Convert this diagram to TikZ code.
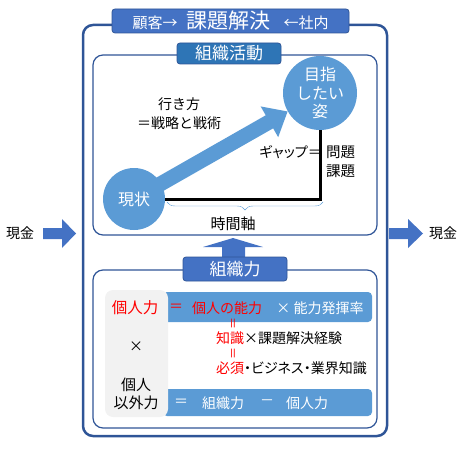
\documentclass[tikz,border=0pt]{standalone}
\usepackage{fontspec}
\setmainfont{Noto Sans CJK JP}
\newfontfamily\propjp[RawFeature=+palt]{Noto Sans CJK JP}
\usepackage{tikz}
\usetikzlibrary{arrows.meta,decorations.pathreplacing,backgrounds}
\usepackage{xcolor}
\definecolor{framblue}{HTML}{2F5597}
\definecolor{tabblue}  {HTML}{4472C4}
\definecolor{acttab}   {HTML}{2E75B6}
\definecolor{spotblue} {HTML}{5B9BD5}
\definecolor{panelgray}{HTML}{F2F2F2}
\newcommand{\fsz}[2]{\fontsize{#1}{#2}\selectfont}

\begin{document}
\begin{tikzpicture}[x=1pt,y=-1pt,
  every node/.style={inner sep=0pt},
  frame/.style={draw=framblue,rounded corners=10pt},
  tab/.style={draw=framblue,line width=0.8pt,rounded corners=3pt,text=white},
  spot/.style={circle,fill=spotblue,text=white,align=center},
  bar/.style={fill=spotblue,rounded corners=4pt},
  blockarrow/.style={fill=tabblue},
  txt/.style={font=\fsz{14}{18}},
  wtxt/.style={txt,text=white},
  rtxt/.style={txt,text=red},
]
\useasboundingbox (0,0) rectangle (465,449);

%% outer frame with title
\node[frame,line width=2.5pt,minimum width=304pt,minimum height=411pt] (main) at (235,230.5) {};
\node[tab,fill=tabblue,minimum width=237pt,minimum height=24pt] (title) at (230.5,21)
  {{\fsz{15}{18}顧客→}\hspace{9pt}{\fsz{21}{24}課題解決}\hspace{13pt}{\fsz{15}{18}←社内}};

%% cash in / cash out
\fill[blockarrow] (43,228) -- (62,228) -- (62,219) -- (76,233.5) -- (62,248) -- (62,239) -- (43,239) -- cycle;
\fill[blockarrow] (389,228) -- (408,228) -- (408,219) -- (423,233.5) -- (408,248) -- (408,239) -- (389,239) -- cycle;
\node[txt] (cashin)  at (20,233)  {現金};
\node[txt] (cashout) at (443,233) {現金};

%% upper panel: activities
\node[frame,line width=1.2pt,minimum width=284pt,minimum height=180pt] (act) at (235,145) {};
\node[tab,fill=acttab,minimum width=104pt,minimum height=21pt,font=\fsz{17}{20}] (acttab) at (229,53.5) {組織活動};

\node[spot,minimum size=62pt,font=\fsz{16}{19}] (now) at (134,199) {現状};
\node[spot,minimum size=74pt,font=\fsz{16}{18.5}] (goal) at (320,93) {目指\\したい\\姿};

\begin{scope}[on background layer]
\draw[spotblue,line width=15pt,shorten <=-12pt,
      -{Triangle[length=21pt,width=34pt]}] (now) -- (goal);
\end{scope}
\node[txt,align=center,font=\fsz{14}{19}] (way) at (179,113.5) {行き方\\＝戦略と戦術};

\draw[line width=3pt] (now.east) -| (goal.south);
\node[txt,anchor=east,font=\propjp\fsz{14}{18}] (gap) at (322,152) {ギャップ＝};
\node[txt,anchor=west,align=left,font=\fsz{14.5}{19}] (issue) at (326,161.5) {問題\\課題};

\draw[spotblue,thin,decorate,decoration={brace,mirror,amplitude=8pt}] (167,202) -- (323,202);
\node[txt,font=\fsz{15}{18}] (axis) at (233,224) {時間軸};

%% lower panel: organisational strength
\fill[blockarrow] (233,238) -- (263,247) -- (245,247) -- (245,260) -- (222,260) -- (222,247) -- (203,247) -- cycle;
\node[frame,line width=1.2pt,minimum width=284pt,minimum height=158pt] (org) at (235,349) {};
\node[tab,fill=tabblue,minimum width=104pt,minimum height=24pt,font=\fsz{17}{20}] (orgtab) at (235,269) {組織力};

\node[bar,minimum width=209pt,minimum height=30pt] (bar1) at (267.5,307) {};
\node[bar,minimum width=209pt,minimum height=27pt] (bar2) at (267.5,402.5) {};
\node[fill=panelgray,rounded corners=8pt,minimum width=63pt,minimum height=127pt] (side) at (136.5,353.5) {};

%% row: individual
\node[rtxt,font=\fsz{15.5}{18}] (ind) at (135,308) {個人力};
\node[rtxt] (eq1) at (176,308) {＝};
\node[rtxt] (ability) at (227,308) {個人の能力};
\node[wtxt] (rate) at (320,308) {× 能力発揮率};
\node[rtxt,rotate=90,font=\fsz{12}{14}] (eq2) at (234.5,323) {＝};
\node[txt,anchor=west] (know) at (216,338) {\textcolor{red}{知識}×課題解決経験};
\node[rtxt,rotate=90,font=\fsz{12}{14}] (eq3) at (234.5,353) {＝};
\node[txt,anchor=west,font=\propjp\fsz{14}{18}] (must) at (216,368) {\textcolor{red}{必須}・ビジネス・業界知識};

%% row: other than individual
\node[txt] (times) at (136,347) {×};
\node[txt,align=center,font=\fsz{15}{18.5}] (other) at (136,394) {個人\\以外力};
\node[wtxt] (eq4) at (181,403) {＝};
\node[wtxt] (orgf) at (223,403) {組織力};
\node[wtxt] (minus) at (267,403) {－};
\node[wtxt] (indf) at (307,403) {個人力};

\end{tikzpicture}
\end{document}
